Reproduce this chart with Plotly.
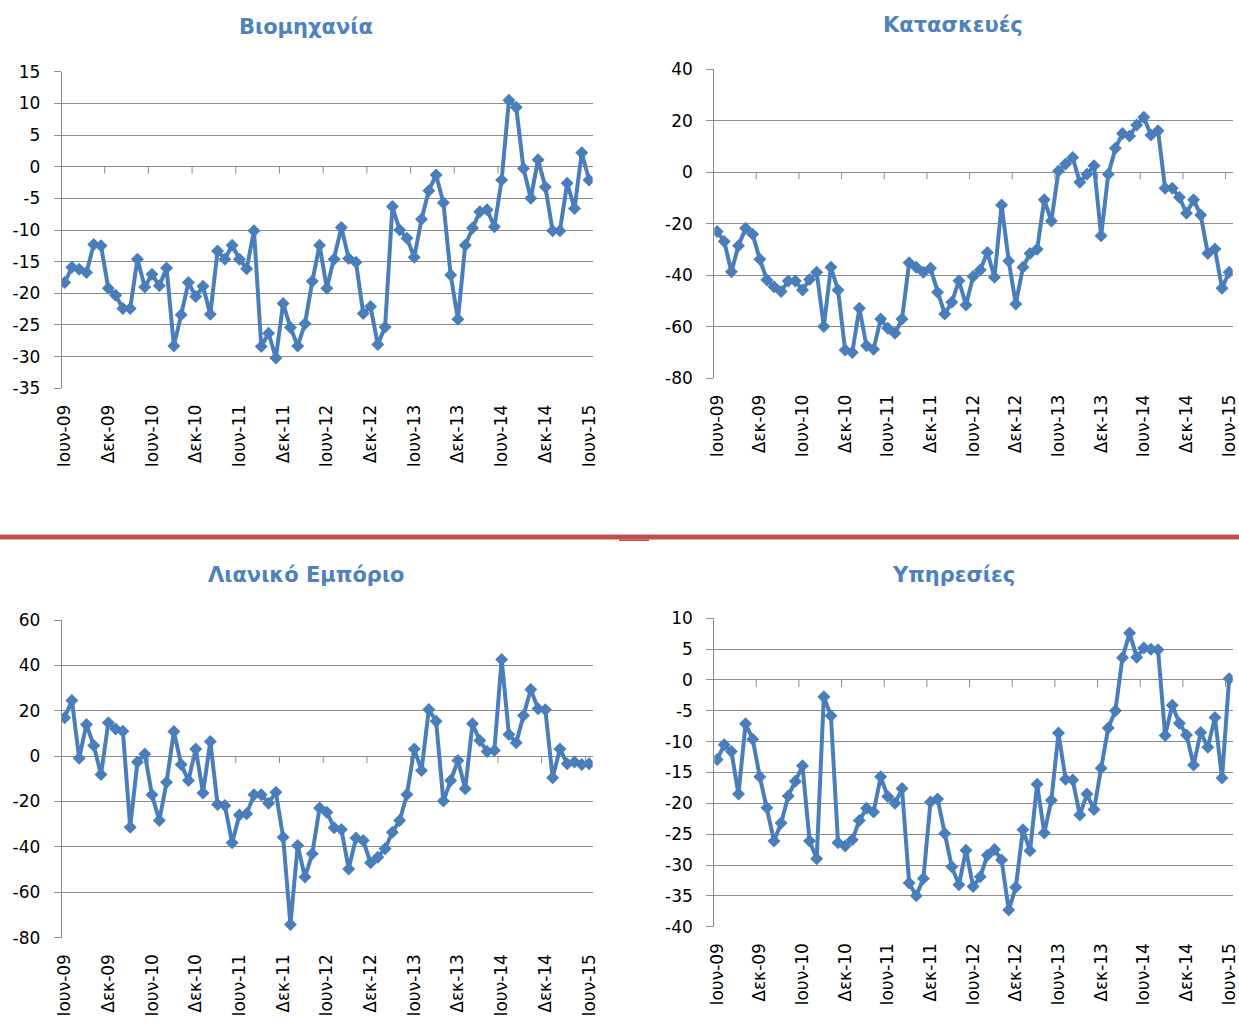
import plotly.graph_objects as go

# μήνες Ιουν-09 .. Ιουν-15
month_names = ["Ιαν", "Φεβ", "Μαρ", "Απρ", "Μαϊ", "Ιουν", "Ιουλ", "Αυγ", "Σεπ", "Οκτ", "Νοε", "Δεκ"]
months = []
for k in range(73):
    m = (5 + k) % 12
    y = 9 + (5 + k) // 12
    months.append("{}-{:02d}".format(month_names[m], y))
tick_labels = months[::6]

titles = ["Βιομηχανία", "Κατασκευές", "Λιανικό Εμπόριο", "Υπηρεσίες"]

industry = [-18.3, -15.9, -16.2, -16.7, -12.3, -12.5, -19.2, -20.3, -22.4, -22.4,
            -14.6, -19.0, -17.0, -18.8, -16.0, -28.3, -23.4, -18.3, -20.5, -18.9,
            -23.3, -13.3, -14.6, -12.4, -14.6, -16.1, -10.1, -28.4, -26.3, -30.2,
            -21.6, -25.4, -28.3, -24.8, -18.1, -12.4, -19.2, -14.6, -9.6, -14.5,
            -15.1, -23.2, -22.1, -28.1, -25.3, -6.3, -10.0, -11.3, -14.3, -8.3,
            -3.8, -1.3, -5.7, -17.1, -24.1, -12.4, -9.7, -7.1, -6.8, -9.5,
            -2.1, 10.5, 9.4, -0.3, -5.0, 1.1, -3.2, -10.1, -10.1, -2.6,
            -6.6, 2.2, -2.1]

construction = [-23.0, -26.9, -38.6, -28.5, -21.7, -24.1, -33.8, -41.8, -44.4, -46.3,
                -42.2, -42.2, -45.7, -41.6, -38.8, -59.9, -36.9, -45.7, -69.0, -70.0,
                -52.8, -67.4, -68.7, -57.0, -60.6, -62.5, -57.0, -35.1, -36.9, -38.8,
                -37.3, -46.6, -55.0, -50.5, -42.1, -51.5, -40.5, -37.9, -31.1, -40.8,
                -12.7, -34.4, -51.1, -36.9, -31.5, -29.9, -10.7, -18.9, 0.5, 3.2,
                5.7, -3.9, -0.8, 2.5, -24.6, -0.8, 9.3, 15.1, 14.1, 18.4,
                21.4, 14.5, 16.1, -6.2, -6.2, -9.7, -15.9, -10.7, -16.6, -31.5,
                -29.8, -45.0, -38.8]

retail = [16.9, 24.5, -0.9, 14.0, 4.7, -8.1, 14.7, 12.0, 11.0, -31.3,
          -2.6, 1.0, -17.0, -28.4, -11.5, 10.9, -3.7, -10.7, 3.2, -16.2,
          6.5, -21.3, -21.7, -38.2, -25.9, -25.4, -17.0, -17.0, -20.7, -15.9,
          -35.7, -74.2, -39.4, -53.3, -43.0, -22.8, -24.7, -31.6, -32.3, -49.7,
          -36.1, -37.2, -47.0, -44.5, -40.8, -33.5, -28.4, -16.9, 3.2, -6.3,
          20.6, 15.4, -19.8, -10.7, -1.9, -14.4, 14.3, 6.9, 2.1, 2.5,
          42.6, 9.5, 5.9, 17.9, 29.4, 20.9, 20.4, -9.5, 3.2, -3.4,
          -2.6, -3.7, -3.4]

services = [-12.9, -10.5, -11.6, -18.5, -7.1, -9.6, -15.7, -20.7, -26.1, -23.2,
            -18.8, -16.4, -13.9, -26.1, -29.0, -2.7, -5.8, -26.4, -26.9, -25.9,
            -22.8, -20.8, -21.4, -15.7, -18.9, -20.0, -17.6, -32.9, -35.0, -32.2,
            -19.8, -19.3, -24.9, -30.3, -33.2, -27.6, -33.5, -31.9, -28.4, -27.5,
            -29.2, -37.3, -33.6, -24.3, -27.7, -16.9, -24.8, -19.5, -8.6, -16.1,
            -16.2, -21.9, -18.5, -21.0, -14.3, -7.8, -5.0, 3.6, 7.6, 3.7,
            5.2, 5.0, 4.9, -9.0, -4.1, -7.0, -8.9, -13.8, -8.5, -10.9,
            -6.1, -15.9, 0.2]

series = [industry, construction, retail, services]
y_ticks = [[-35, -30, -25, -20, -15, -10, -5, 0, 5, 10, 15],
           [-80, -60, -40, -20, 0, 20, 40],
           [-80, -60, -40, -20, 0, 20, 40, 60],
           [-40, -35, -30, -25, -20, -15, -10, -5, 0, 5, 10]]

W, H = 1239, 1026
# plot areas in pixels: left, right, top, bottom
boxes = [(61.7, 592.7, 71.7, 388.3),
         (714.3, 1232.7, 69.3, 378.3),
         (61.7, 592.7, 620, 937.7),
         (714.3, 1232.7, 618.3, 926.7)]
title_pos = [(306, 27), (953, 25), (306, 575), (953, 575)]

blue = "#4A7EBB"
grid = "#8C8C8C"
fig = go.Figure()
layout = dict(width=W, height=H, autosize=False,
              margin=dict(l=0, r=0, t=0, b=0, autoexpand=False),
              paper_bgcolor="white", plot_bgcolor="white", showlegend=False,
              font=dict(family="DejaVu Sans", size=15, color="black"))
shapes = []
annotations = []

for i in range(4):
    n = "" if i == 0 else str(i + 1)
    l, r, t, b = boxes[i]
    fig.add_trace(go.Scatter(x=months, y=series[i], mode="lines+markers",
                             xaxis="x" + n, yaxis="y" + n,
                             line=dict(color=blue, width=4),
                             marker=dict(symbol="diamond", size=10, color=blue)))
    layout["xaxis" + n] = dict(domain=[l / W, r / W], anchor="y" + n, type="category",
                               range=[-0.4, 72.5], showgrid=False, zeroline=False,
                               showline=False, ticks="", tickangle=-90,
                               tickvals=tick_labels, ticktext=tick_labels,
                               ticklabelstandoff=12, tickfont=dict(size=17))
    layout["yaxis" + n] = dict(domain=[1 - b / H, 1 - t / H], anchor="x" + n,
                               range=[y_ticks[i][0], y_ticks[i][-1]],
                               tickvals=y_ticks[i], ticktext=[str(v) for v in y_ticks[i]],
                               showgrid=True, gridcolor=grid, gridwidth=1,
                               zeroline=False, showline=True, linecolor=grid,
                               ticks="outside", ticklen=7, tickcolor=grid,
                               ticklabelstandoff=10, tickfont=dict(size=17))
    # tick marks of the category axis on the zero line
    for k in range(12):
        shapes.append(dict(type="line", xref="x" + n, yref="y" + n,
                           x0=5.5 + 6 * k, x1=5.5 + 6 * k,
                           ysizemode="pixel", yanchor=0, y0=0, y1=-7,
                           line=dict(color=grid, width=1)))
    annotations.append(dict(text="<b>" + titles[i] + "</b>", xref="paper", yref="paper",
                            x=title_pos[i][0] / W, y=1 - title_pos[i][1] / H,
                            xanchor="center", yanchor="middle", showarrow=False,
                            font=dict(size=21, color="#4F81BD")))

# κόκκινη διαχωριστική γραμμή
shapes.append(dict(type="rect", xref="paper", yref="paper", x0=0, x1=1,
                   y0=1 - 539.5 / H, y1=1 - 534.5 / H,
                   fillcolor="#C0504D", line=dict(width=0)))
shapes.append(dict(type="rect", xref="paper", yref="paper", x0=619 / W, x1=649 / W,
                   y0=1 - 541 / H, y1=1 - 539.5 / H,
                   fillcolor="#B8504D", line=dict(width=0)))

layout["shapes"] = shapes
layout["annotations"] = annotations
fig.update_layout(**layout)
fig.write_html("out.html", config={"displayModeBar": False, "responsive": False},
               post_script="document.body.style.margin='0';document.body.style.overflow='hidden';")
